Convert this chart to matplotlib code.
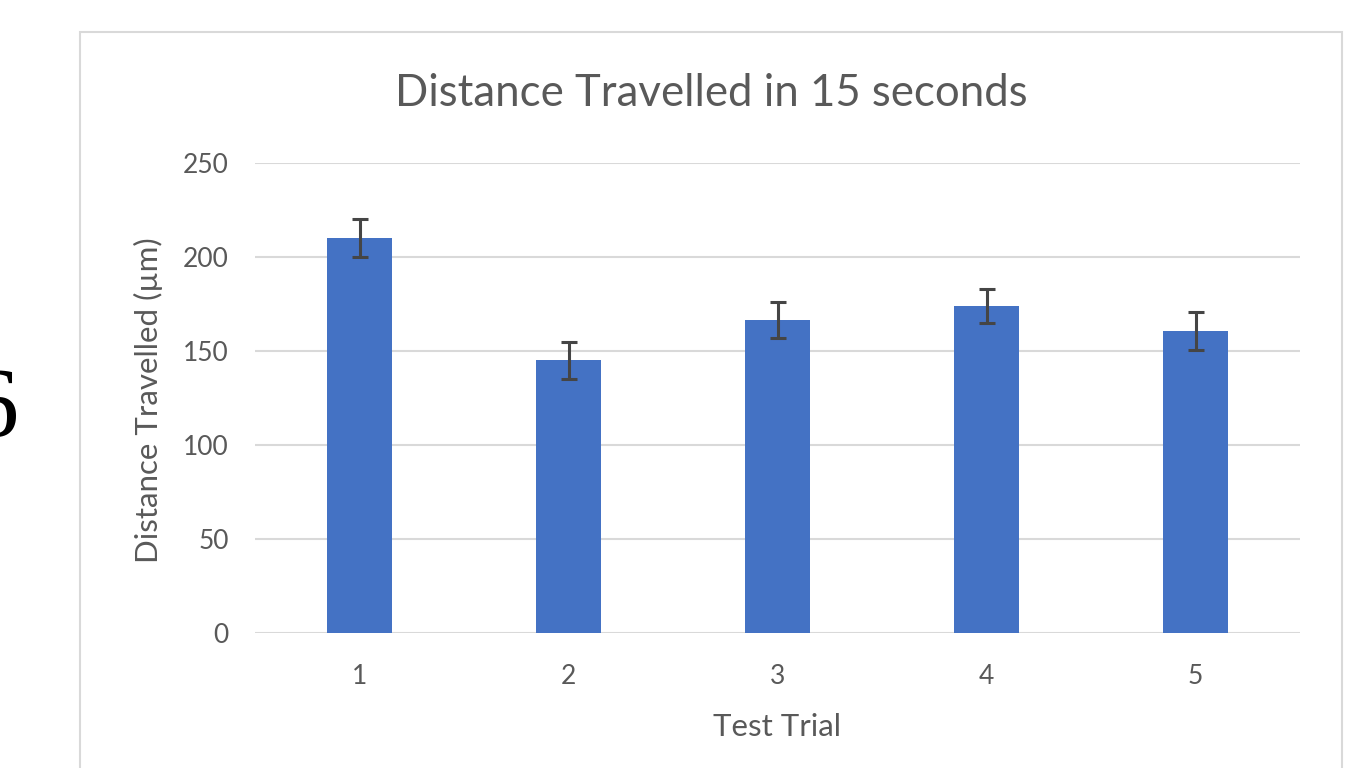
import numpy as np
import matplotlib.pyplot as plt
from matplotlib.patches import Rectangle

trials = ["1", "2", "3", "4", "5"]
distance = [210, 145, 166.5, 174, 160.5]
errors = [10, 10, 9.5, 9, 10]
y_ticks = [0, 50, 100, 150, 200, 250]

plt.rcParams["font.family"] = ["Lato", "DejaVu Sans"]
text_color = "#595959"
grid_color = "#d9d9d9"

W, H = 1366, 768
fig = plt.figure(figsize=(W / 100, H / 100), dpi=100)
fig.patch.set_facecolor("white")

# chart frame (extends past the bottom edge)
fig.patches.append(Rectangle((80 / W, -0.05), (1342 - 80) / W, 1 - 32 / H + 0.05,
                             transform=fig.transFigure, fill=False,
                             edgecolor=grid_color, lw=1.5))

# part of a big slide number peeking in on the left
fig.text(-0.023, 1 - 412 / H, "6", fontsize=72, family="Liberation Serif",
         color="black", ha="left", va="center")

ax = fig.add_axes([255 / W, 1 - 633 / H, 1045 / W, 470 / H])
x = np.arange(len(trials))
ax.bar(x, distance, width=0.31, color="#4472C4", zorder=3)
ax.errorbar(x, distance, yerr=errors, fmt="none", ecolor="#454545",
            elinewidth=2.2, capsize=6, capthick=2.2, zorder=4)

ax.set_xlim(-0.5, len(trials) - 0.5)
ax.set_ylim(0, 250)
ax.set_yticks(y_ticks)
ax.set_xticks(x)
ax.set_xticklabels(trials)
ax.yaxis.grid(True, color=grid_color, lw=1.5, zorder=0)
ax.set_axisbelow(True)
for s in ax.spines.values():
    s.set_visible(False)
ax.tick_params(length=0, labelsize=19, colors=text_color)
ax.tick_params(axis="y", pad=19)
ax.tick_params(axis="x", pad=22)

fig.text(711 / W, 1 - 93 / H, "Distance Travelled in 15 seconds", fontsize=31.5,
         color=text_color, ha="center", va="center")
fig.text(777 / W, 1 - 727 / H, "Test Trial", fontsize=22.5,
         color=text_color, ha="center", va="center")
fig.text(148 / W, 1 - 400 / H, "Distance Travelled (µm)", fontsize=22.5,
         color=text_color, ha="center", va="center", rotation=90)

fig.savefig("out.png", dpi=100)
